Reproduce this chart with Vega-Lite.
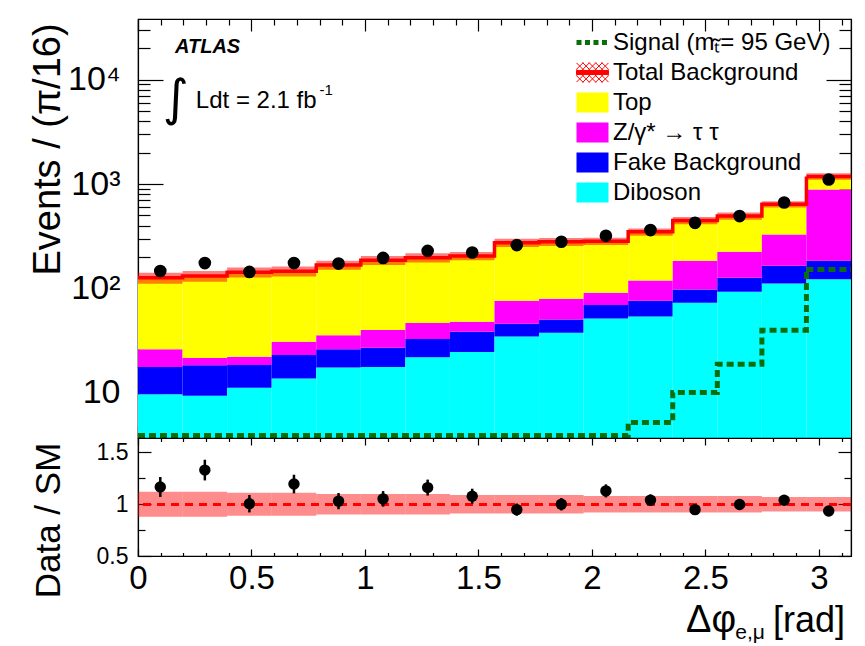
{
  "$schema": "https://vega.github.io/schema/vega-lite/v6.json",
  "background": "white",
  "padding": {"left": 28, "top": 12, "right": 5, "bottom": 2},
  "autosize": {"type": "pad"},
  "spacing": 0,
  "bounds": "flush",
  "config": {
    "view": {"stroke": "black", "strokeWidth": 1.2},
    "font": "Liberation Sans",
    "axis": {"grid": false, "domainColor": "black", "tickColor": "black", "labelColor": "black", "titleColor": "black", "labelFont": "Liberation Sans", "titleFont": "Liberation Sans", "titleFontWeight": "normal", "labelFlush": false, "labelOverlap": false, "labelBound": false, "tickWidth": 1.2, "domainWidth": 1.2}
  },
  "datasets": {
    "bins": [
      {"lo": 0, "hi": 0.19635, "ctr": 0.09817, "Diboson": 9.7, "Fake": 8.0, "Ztautau": 8.5, "Top": 100.1, "Total": 126.3, "TotLo": 111.1, "TotHi": 141.5, "Data": 147, "Ratio": 1.167, "RatioErr": 0.096, "BandLo": 0.88, "BandHi": 1.12, "Signal": 3.9},
      {"lo": 0.19635, "hi": 0.3927, "ctr": 0.29452, "Diboson": 9.4, "Fake": 9.0, "Ztautau": 3.2, "Top": 109.9, "Total": 131.5, "TotLo": 115.7, "TotHi": 147.3, "Data": 175, "Ratio": 1.33, "RatioErr": 0.1, "BandLo": 0.88, "BandHi": 1.12, "Signal": 3.9},
      {"lo": 0.3927, "hi": 0.58905, "ctr": 0.49087, "Diboson": 11.2, "Fake": 7.3, "Ztautau": 3.7, "Top": 121.1, "Total": 143.3, "TotLo": 127.5, "TotHi": 159.1, "Data": 144, "Ratio": 1.005, "RatioErr": 0.084, "BandLo": 0.89, "BandHi": 1.11, "Signal": 3.9},
      {"lo": 0.58905, "hi": 0.7854, "ctr": 0.68722, "Diboson": 13.7, "Fake": 9.4, "Ztautau": 7.7, "Top": 115.5, "Total": 146.3, "TotLo": 130.2, "TotHi": 162.4, "Data": 175, "Ratio": 1.195, "RatioErr": 0.09, "BandLo": 0.89, "BandHi": 1.11, "Signal": 3.9},
      {"lo": 0.7854, "hi": 0.98175, "ctr": 0.88357, "Diboson": 17.5, "Fake": 8.7, "Ztautau": 9.5, "Top": 132.1, "Total": 167.8, "TotLo": 151.0, "TotHi": 184.6, "Data": 173, "Ratio": 1.03, "RatioErr": 0.078, "BandLo": 0.9, "BandHi": 1.1, "Signal": 3.9},
      {"lo": 0.98175, "hi": 1.1781, "ctr": 1.07992, "Diboson": 17.7, "Fake": 9.3, "Ztautau": 13.1, "Top": 146.2, "Total": 186.3, "TotLo": 167.7, "TotHi": 204.9, "Data": 196, "Ratio": 1.052, "RatioErr": 0.075, "BandLo": 0.9, "BandHi": 1.1, "Signal": 3.9},
      {"lo": 1.1781, "hi": 1.37445, "ctr": 1.27627, "Diboson": 22.0, "Fake": 10.9, "Ztautau": 13.9, "Top": 150.4, "Total": 197.2, "TotLo": 177.5, "TotHi": 216.9, "Data": 229, "Ratio": 1.161, "RatioErr": 0.077, "BandLo": 0.9, "BandHi": 1.1, "Signal": 3.9},
      {"lo": 1.37445, "hi": 1.5708, "ctr": 1.47262, "Diboson": 24.7, "Fake": 13.7, "Ztautau": 9.5, "Top": 157.1, "Total": 205.0, "TotLo": 186.6, "TotHi": 223.5, "Data": 221, "Ratio": 1.078, "RatioErr": 0.072, "BandLo": 0.91, "BandHi": 1.09, "Signal": 3.9},
      {"lo": 1.5708, "hi": 1.76715, "ctr": 1.66897, "Diboson": 34.6, "Fake": 11.2, "Ztautau": 30.3, "Top": 198.1, "Total": 274.2, "TotLo": 249.5, "TotHi": 298.9, "Data": 260, "Ratio": 0.948, "RatioErr": 0.059, "BandLo": 0.91, "BandHi": 1.09, "Signal": 3.9},
      {"lo": 1.76715, "hi": 1.9635, "ctr": 1.86532, "Diboson": 37.6, "Fake": 12.8, "Ztautau": 29.1, "Top": 200.0, "Total": 279.5, "TotLo": 254.3, "TotHi": 304.7, "Data": 280, "Ratio": 1.0, "RatioErr": 0.06, "BandLo": 0.91, "BandHi": 1.09, "Signal": 3.9},
      {"lo": 1.9635, "hi": 2.15984, "ctr": 2.06167, "Diboson": 51.7, "Fake": 17.9, "Ztautau": 21.2, "Top": 191.8, "Total": 282.6, "TotLo": 260.0, "TotHi": 305.2, "Data": 319, "Ratio": 1.129, "RatioErr": 0.063, "BandLo": 0.92, "BandHi": 1.08, "Signal": 3.9},
      {"lo": 2.15984, "hi": 2.35619, "ctr": 2.25802, "Diboson": 53.8, "Fake": 22.3, "Ztautau": 42.9, "Top": 229.1, "Total": 348.1, "TotLo": 320.3, "TotHi": 375.9, "Data": 362, "Ratio": 1.04, "RatioErr": 0.055, "BandLo": 0.92, "BandHi": 1.08, "Signal": 5.2},
      {"lo": 2.35619, "hi": 2.55254, "ctr": 2.45437, "Diboson": 72.8, "Fake": 24.8, "Ztautau": 86.2, "Top": 264.5, "Total": 448.3, "TotLo": 412.4, "TotHi": 484.2, "Data": 425, "Ratio": 0.948, "RatioErr": 0.046, "BandLo": 0.92, "BandHi": 1.08, "Signal": 10.1},
      {"lo": 2.55254, "hi": 2.74889, "ctr": 2.65072, "Diboson": 92.8, "Fake": 33.5, "Ztautau": 97.9, "Top": 270.4, "Total": 494.6, "TotLo": 455.0, "TotHi": 534.2, "Data": 493, "Ratio": 0.997, "RatioErr": 0.045, "BandLo": 0.92, "BandHi": 1.08, "Signal": 18.8},
      {"lo": 2.74889, "hi": 2.94524, "ctr": 2.84707, "Diboson": 111.4, "Fake": 53.2, "Ztautau": 163.7, "Top": 311.7, "Total": 640.0, "TotLo": 595.2, "TotHi": 684.8, "Data": 665, "Ratio": 1.039, "RatioErr": 0.04, "BandLo": 0.93, "BandHi": 1.07, "Signal": 39.9},
      {"lo": 2.94524, "hi": 3.14159, "ctr": 3.04342, "Diboson": 122.7, "Fake": 61.1, "Ztautau": 702.2, "Top": 295.5, "Total": 1181.5, "TotLo": 1098.8, "TotHi": 1264.2, "Data": 1105, "Ratio": 0.935, "RatioErr": 0.028, "BandLo": 0.93, "BandHi": 1.07, "Signal": 151.7}
    ],
    "procs": [
      {"process": "Diboson", "order": 1},
      {"process": "Fake", "order": 2},
      {"process": "Ztautau", "order": 3},
      {"process": "Top", "order": 4}
    ]
  },
  "resolve": {"scale": {"color": "independent"}, "legend": {"color": "independent"}},
  "vconcat": [
    {
      "width": 713,
      "height": 419,
      "data": {"name": "bins"},
      "resolve": {"axis": {"x": "independent", "y": "independent"}},
      "layer": [
        {
          "transform": [
            {"fold": ["Diboson", "Fake", "Ztautau", "Top"], "as": ["process", "count"]},
            {"lookup": "process", "from": {"data": {"name": "procs"}, "key": "process", "fields": ["order"]}},
            {"stack": "count", "groupby": ["lo"], "sort": [{"field": "order", "order": "ascending"}], "as": ["c0", "c1"]}
          ],
          "mark": {"type": "rect", "clip": true},
          "encoding": {
            "x": {"field": "lo", "type": "quantitative", "scale": {"domain": [0, 3.14159], "nice": false, "zero": false},
              "axis": {"orient": "bottom", "values": [0,0.1,0.2,0.3,0.4,0.5,0.6,0.7,0.8,0.9,1,1.1,1.2,1.3,1.4,1.5,1.6,1.7,1.8,1.9,2,2.1,2.2,2.3,2.4,2.5,2.6,2.7,2.8,2.9,3,3.1], "labels": false, "title": null,
                "tickSize": {"condition": {"test": "datum.value % 0.5 === 0", "value": -12}, "value": -6}}},
            "x2": {"field": "hi"},
            "y": {"field": "c1", "type": "quantitative", "scale": {"type": "log", "domain": [3.7, 38000], "nice": false, "clamp": true},
              "axis": {"orient": "left", "values": [4,5,6,7,8,9,10,20,30,40,50,60,70,80,90,100,200,300,400,500,600,700,800,900,1000,2000,3000,4000,5000,6000,7000,8000,9000,10000,20000,30000],
                "labelExpr": "datum.value===10?'10':datum.value===100?'10²':datum.value===1000?'10³':datum.value===10000?'10⁴':''",
                "tickSize": {"condition": {"test": "datum.value===10||datum.value===100||datum.value===1000||datum.value===10000", "value": -25}, "value": -12},
                "labelPadding": 43, "labelFontSize": 34,
                "title": "Events / (π/16)", "titleFontSize": 38, "titleX": -90, "titleY": 130, "titleAngle": -90, "titleAlign": "center", "titleBaseline": "middle"}},
            "y2": {"field": "c0"},
            "color": {"field": "process", "type": "nominal",
              "scale": {"domain": ["Signal", "TotalBkg", "Top", "Ztautau", "Fake", "Diboson"], "range": ["#0a6e0a", "#ff0000", "#ffff00", "#ff00ff", "#0000ff", "#00ffff"]},
              "legend": {"orient": "none", "legendX": 442, "legendY": 11, "title": null, "padding": 0,
                "labelFontSize": 24, "labelFont": "Liberation Sans", "labelColor": "black", "labelLimit": 500, "labelOffset": 8,
                "symbolSize": 576, "rowPadding": 5,
                "labelExpr": "datum.value==='Signal'?'Signal (mₜ̃= 95 GeV)':datum.value==='TotalBkg'?'Total Background':datum.value==='Ztautau'?'Z/γ* → τ τ':datum.value==='Fake'?'Fake Background':datum.value",
                "encode": {"symbols": {"update": {
                  "shape": {"signal": "datum.value==='Signal'?'M-1.333,-0.208H-0.916V0.208H-1.333ZM-0.626,-0.208H-0.209V0.208H-0.626ZM0.081,-0.208H0.498V0.208H0.081ZM0.788,-0.208H1.205V0.208H0.788Z':datum.value==='TotalBkg'?'M-1.333,0.267L-0.767,0.833M-1.333,-0.267L-0.233,0.833M-1.333,-0.8L0.3,0.833M-0.833,-0.833L0.833,0.833M-0.3,-0.833L1.333,0.8M0.233,-0.833L1.333,0.267M0.767,-0.833L1.333,-0.267M-0.767,-0.833L-1.333,-0.267M-0.233,-0.833L-1.333,0.267M0.3,-0.833L-1.333,0.8M0.833,-0.833L-0.833,0.833M1.333,-0.8L-0.3,0.833M1.333,-0.267L0.233,0.833M1.333,0.267L0.767,0.833M-1.333,-0.17H1.333V0.17H-1.333Z':'M-1.333,-0.833H1.333V0.833H-1.333Z'"},
                  "stroke": {"signal": "datum.value==='TotalBkg'?'#ff0000':'transparent'"},
                  "strokeWidth": {"value": 1}
                }}}
              }}
          }
        },
        {
          "mark": {"type": "rect", "color": "#ff0000", "opacity": 0.5, "clip": true},
          "encoding": {
            "x": {"field": "lo", "type": "quantitative", "scale": {"domain": [0, 3.14159], "nice": false, "zero": false}, "axis": null},
            "x2": {"field": "hi"},
            "y": {"field": "TotLo", "type": "quantitative", "scale": {"type": "log", "domain": [3.7, 38000], "nice": false, "clamp": true}, "axis": null},
            "y2": {"field": "TotHi"}
          }
        },
        {
          "mark": {"type": "line", "interpolate": "step-after", "color": "#ff0000", "strokeWidth": 3.5, "clip": true},
          "encoding": {
            "x": {"field": "lo", "type": "quantitative", "scale": {"domain": [0, 3.14159], "nice": false, "zero": false}, "axis": null},
            "y": {"field": "Total", "type": "quantitative", "scale": {"type": "log", "domain": [3.7, 38000], "nice": false, "clamp": true}, "axis": null}
          }
        },
        {
          "transform": [{"filter": "datum.lo > 2.9"}],
          "mark": {"type": "rule", "color": "#ff0000", "strokeWidth": 3.5, "clip": true},
          "encoding": {
            "x": {"field": "lo", "type": "quantitative", "scale": {"domain": [0, 3.14159], "nice": false, "zero": false}, "axis": null},
            "x2": {"field": "hi"},
            "y": {"field": "Total", "type": "quantitative", "scale": {"type": "log", "domain": [3.7, 38000], "nice": false, "clamp": true}, "axis": null}
          }
        },
        {
          "mark": {"type": "line", "interpolate": "step-after", "color": "#0a6e0a", "strokeWidth": 5, "strokeDash": [7, 4], "clip": true},
          "encoding": {
            "x": {"field": "lo", "type": "quantitative", "scale": {"domain": [0, 3.14159], "nice": false, "zero": false}, "axis": null},
            "y": {"field": "Signal", "type": "quantitative", "scale": {"type": "log", "domain": [3.7, 38000], "nice": false, "clamp": true}, "axis": null}
          }
        },
        {
          "transform": [{"filter": "datum.lo > 2.9"}],
          "mark": {"type": "rule", "color": "#0a6e0a", "strokeWidth": 5, "strokeDash": [7, 4], "clip": true},
          "encoding": {
            "x": {"field": "lo", "type": "quantitative", "scale": {"domain": [0, 3.14159], "nice": false, "zero": false}, "axis": null},
            "x2": {"field": "hi"},
            "y": {"field": "Signal", "type": "quantitative", "scale": {"type": "log", "domain": [3.7, 38000], "nice": false, "clamp": true}, "axis": null}
          }
        },
        {
          "mark": {"type": "point", "shape": "circle", "filled": true, "color": "black", "opacity": 1, "size": 160},
          "encoding": {
            "x": {"field": "ctr", "type": "quantitative", "scale": {"domain": [0, 3.14159], "nice": false, "zero": false},
              "axis": {"orient": "top", "values": [0,0.1,0.2,0.3,0.4,0.5,0.6,0.7,0.8,0.9,1,1.1,1.2,1.3,1.4,1.5,1.6,1.7,1.8,1.9,2,2.1,2.2,2.3,2.4,2.5,2.6,2.7,2.8,2.9,3,3.1], "labels": false, "title": null,
                "tickSize": {"condition": {"test": "datum.value % 0.5 === 0", "value": -12}, "value": -6}}},
            "y": {"field": "Data", "type": "quantitative", "scale": {"type": "log", "domain": [3.7, 38000], "nice": false, "clamp": true},
              "axis": {"orient": "right", "values": [4,5,6,7,8,9,10,20,30,40,50,60,70,80,90,100,200,300,400,500,600,700,800,900,1000,2000,3000,4000,5000,6000,7000,8000,9000,10000,20000,30000], "labels": false, "title": null,
                "tickSize": {"condition": {"test": "datum.value===10||datum.value===100||datum.value===1000||datum.value===10000", "value": -25}, "value": -12}}}
          }
        },
        {
          "data": {"values": [{}]},
          "mark": {"type": "text", "text": "ATLAS", "font": "Liberation Sans", "fontSize": 20, "fontWeight": "bold", "fontStyle": "italic", "align": "left", "baseline": "middle", "color": "black"},
          "encoding": {
            "x": {"datum": 0.163, "type": "quantitative", "axis": null},
            "y": {"datum": 20600, "type": "quantitative", "axis": null}
          }
        },
        {
          "data": {"values": [{}]},
          "mark": {"type": "text", "text": "∫", "font": "DejaVu Sans", "fontSize": 50, "align": "center", "baseline": "middle", "color": "black"},
          "encoding": {
            "x": {"datum": 0.167, "type": "quantitative", "axis": null},
            "y": {"datum": 6410, "type": "quantitative", "axis": null}
          }
        },
        {
          "data": {"values": [{}]},
          "mark": {"type": "text", "text": "Ldt = 2.1 fb", "font": "Liberation Sans", "fontSize": 24, "align": "left", "baseline": "middle", "color": "black"},
          "encoding": {
            "x": {"datum": 0.255, "type": "quantitative", "axis": null},
            "y": {"datum": 6270, "type": "quantitative", "axis": null}
          }
        },
        {
          "data": {"values": [{}]},
          "mark": {"type": "text", "text": "-1", "font": "Liberation Sans", "fontSize": 15, "align": "left", "baseline": "middle", "color": "black"},
          "encoding": {
            "x": {"datum": 0.8, "type": "quantitative", "axis": null},
            "y": {"datum": 7980, "type": "quantitative", "axis": null}
          }
        }
      ]
    },
    {
      "width": 713,
      "height": 118,
      "data": {"name": "bins"},
      "resolve": {"axis": {"x": "independent", "y": "independent"}},
      "layer": [
        {
          "mark": {"type": "rect", "color": "#ff0000", "opacity": 0.45},
          "encoding": {
            "x": {"field": "lo", "type": "quantitative", "scale": {"domain": [0, 3.14159], "nice": false, "zero": false},
              "axis": {"orient": "bottom", "values": [0,0.1,0.2,0.3,0.4,0.5,0.6,0.7,0.8,0.9,1,1.1,1.2,1.3,1.4,1.5,1.6,1.7,1.8,1.9,2,2.1,2.2,2.3,2.4,2.5,2.6,2.7,2.8,2.9,3,3.1],
                "labelExpr": "datum.value % 0.5 === 0 ? '' + datum.value : ''", "labelFontSize": 33, "labelPadding": 13, "title": null,
                "tickSize": {"condition": {"test": "datum.value % 0.5 === 0", "value": -7}, "value": -3.5}}},
            "x2": {"field": "hi"},
            "y": {"field": "BandLo", "type": "quantitative", "scale": {"domain": [0.5, 1.64], "nice": false, "zero": false},
              "axis": {"orient": "left", "values": [0.5, 0.75, 1, 1.25, 1.5],
                "labelExpr": "datum.value===0.5||datum.value===1||datum.value===1.5 ? '' + datum.value : ''",
                "tickSize": {"condition": {"test": "datum.value===0.5||datum.value===1||datum.value===1.5", "value": -13}, "value": -7},
                "labelPadding": 23, "labelFontSize": 23,
                "title": "Data / SM", "titleFontSize": 35, "titleX": -90, "titleY": 82, "titleAngle": -90, "titleAlign": "center", "titleBaseline": "middle"}},
            "y2": {"field": "BandHi"}
          }
        },
        {
          "mark": {"type": "rule", "color": "#ff0000", "strokeWidth": 2.5, "strokeDash": [8, 6]},
          "encoding": {
            "y": {"datum": 1, "type": "quantitative", "axis": null}
          }
        },
        {
          "mark": {"type": "errorbar", "color": "black", "thickness": 2.5},
          "encoding": {
            "x": {"field": "ctr", "type": "quantitative", "axis": null},
            "y": {"field": "Ratio", "type": "quantitative", "axis": null},
            "yError": {"field": "RatioErr"}
          }
        },
        {
          "mark": {"type": "point", "shape": "circle", "filled": true, "color": "black", "opacity": 1, "size": 130},
          "encoding": {
            "x": {"field": "ctr", "type": "quantitative",
              "axis": {"orient": "top", "values": [0,0.1,0.2,0.3,0.4,0.5,0.6,0.7,0.8,0.9,1,1.1,1.2,1.3,1.4,1.5,1.6,1.7,1.8,1.9,2,2.1,2.2,2.3,2.4,2.5,2.6,2.7,2.8,2.9,3,3.1], "labels": false, "title": null,
                "tickSize": {"condition": {"test": "datum.value % 0.5 === 0", "value": -7}, "value": -3.5}}},
            "y": {"field": "Ratio", "type": "quantitative",
              "axis": {"orient": "right", "values": [0.5, 0.75, 1, 1.25, 1.5], "labels": false, "title": null,
                "tickSize": {"condition": {"test": "datum.value===0.5||datum.value===1||datum.value===1.5", "value": -13}, "value": -7}}}
          }
        },
        {
          "data": {"values": [{}]},
          "mark": {"type": "text", "text": "Δφ", "font": "Liberation Sans", "fontSize": 38, "align": "left", "baseline": "alphabetic", "color": "black"},
          "encoding": {
            "x": {"datum": 2.415, "type": "quantitative", "axis": null},
            "y": {"datum": -0.235, "type": "quantitative", "axis": null}
          }
        },
        {
          "data": {"values": [{}]},
          "mark": {"type": "text", "text": "e,μ", "font": "Liberation Sans", "fontSize": 21, "align": "left", "baseline": "alphabetic", "color": "black"},
          "encoding": {
            "x": {"datum": 2.632, "type": "quantitative", "axis": null},
            "y": {"datum": -0.305, "type": "quantitative", "axis": null}
          }
        },
        {
          "data": {"values": [{}]},
          "mark": {"type": "text", "text": "[rad]", "font": "Liberation Sans", "fontSize": 36, "align": "right", "baseline": "alphabetic", "color": "black"},
          "encoding": {
            "x": {"datum": 3.115, "type": "quantitative", "axis": null},
            "y": {"datum": -0.235, "type": "quantitative", "axis": null}
          }
        }
      ]
    }
  ]
}
